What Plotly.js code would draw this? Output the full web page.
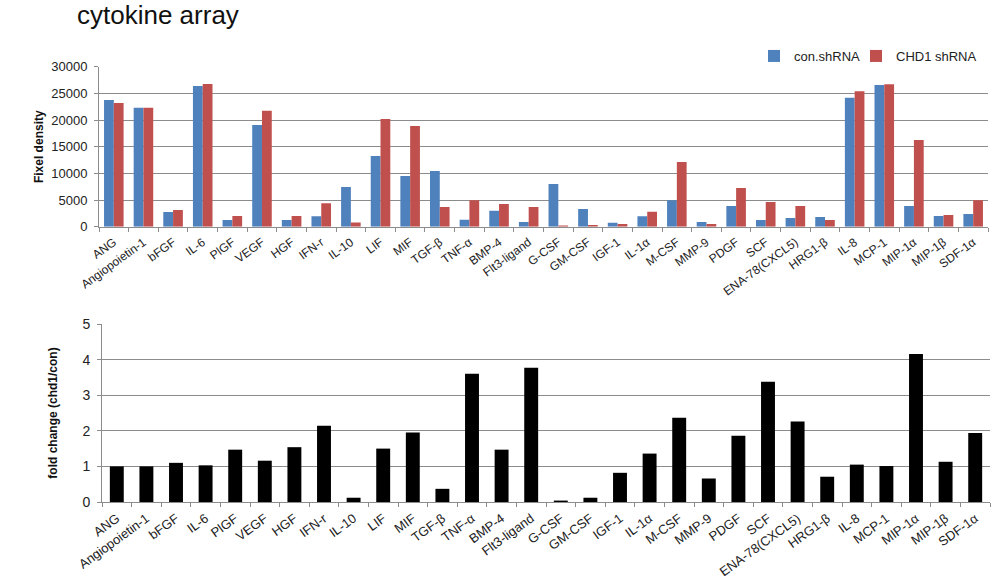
<!DOCTYPE html>
<html>
<head>
<meta charset="utf-8">
<script src="https://cdn.plot.ly/plotly-3.0.1.min.js"></script>
<style>html,body{margin:0;padding:0;background:#fff;}#chart{width:1002px;height:584px;}</style>
</head>
<body>
<div id="chart"></div>
<script>
const categories = ["ANG","Angiopoietin-1","bFGF","IL-6","PlGF","VEGF","HGF","IFN-r","IL-10","LIF","MIF","TGF-β","TNF-α","BMP-4","Flt3-ligand","G-CSF","GM-CSF","IGF-1","IL-1α","M-CSF","MMP-9","PDGF","SCF","ENA-78(CXCL5)","HRG1-β","IL-8","MCP-1","MIP-1α","MIP-1β","SDF-1α"];
const conShRNA = [23750,22300,2750,26380,1250,19060,1250,1940,7440,13250,9500,10440,1310,3000,875,8000,3310,750,1940,4940,875,3875,1250,1625,1810,24190,26560,3875,2000,2375];
const chd1ShRNA = [23190,22300,3125,26750,2000,21750,2000,4375,810,20190,18875,3690,4940,4250,3690,240,310,500,2810,12125,500,7250,4625,3875,1250,25375,26690,16250,2190,4940];
const foldChange = [1.00,1.00,1.10,1.03,1.47,1.16,1.54,2.14,0.12,1.50,1.95,0.37,3.60,1.47,3.77,0.04,0.12,0.82,1.36,2.37,0.66,1.86,3.38,2.26,0.71,1.05,1.01,4.16,1.13,1.94];

const font = "Liberation Sans, Arial, sans-serif";
const grid = "#8c8c8c";

const traces = [
  {type:"bar", x:categories, y:conShRNA, name:"con.shRNA", marker:{color:"#4F81BD"}, xaxis:"x", yaxis:"y", legend:"legend"},
  {type:"bar", x:categories, y:chd1ShRNA, name:"CHD1 shRNA", marker:{color:"#C0504D"}, xaxis:"x", yaxis:"y", legend:"legend2"},
  {type:"bar", x:categories, y:foldChange, name:"fold change", marker:{color:"#000000"}, xaxis:"x2", yaxis:"y2", showlegend:false, width:0.47}
];

const xCommon = {type:"category", tickangle:-36, showline:true, linecolor:grid, linewidth:1,
  ticks:"outside", tickson:"boundaries", ticklen:4, tickcolor:grid, showgrid:false, ticklabelstandoff:3,
  automargin:false};

const legendCommon = {orientation:"h", xanchor:"left", y:1-56/584, yanchor:"middle",
  font:{family:font, size:13, color:"#222"}, itemwidth:30, bgcolor:"rgba(0,0,0,0)"};

const layout = {
  width:1002, height:584,
  margin:{l:0,r:0,t:0,b:0},
  paper_bgcolor:"#fff", plot_bgcolor:"#fff",
  barmode:"group", bargap:0.34, bargroupgap:0,
  font:{family:font, color:"#222"},
  title:{text:"cytokine array", x:77/1002, xanchor:"left", xref:"paper", y:1-15/584, yanchor:"middle", yref:"paper",
    font:{family:font, size:26, color:"#111"}},
  showlegend:true,
  legend:Object.assign({}, legendCommon, {x:754/1002}),
  legend2:Object.assign({}, legendCommon, {x:856/1002}),
  xaxis:Object.assign({}, xCommon, {domain:[99/1002, 988/1002], anchor:"y", tickfont:{family:font, size:12, color:"#222"}}),
  yaxis:{domain:[1-226.7/584, 1-66.7/584], range:[0,30000], dtick:5000, tickformat:"d", showgrid:true, gridcolor:grid, gridwidth:1,
    showline:true, linecolor:grid, ticks:"outside", ticklen:4, tickcolor:grid, zeroline:false, ticklabelstandoff:4,
    tickfont:{family:font, size:13, color:"#222"}, anchor:"x", automargin:false,
    title:{text:"<b>Fixel density</b>", standoff:5, font:{family:font, size:12, color:"#111"}}},
  xaxis2:Object.assign({}, xCommon, {domain:[102/1002, 990/1002], anchor:"y2", tickfont:{family:font, size:13, color:"#222"}}),
  yaxis2:{domain:[1-502/584, 1-324/584], range:[0,5], dtick:1, showgrid:true, gridcolor:grid, gridwidth:1,
    showline:true, linecolor:grid, ticks:"outside", ticklen:4, tickcolor:grid, zeroline:false, ticklabelstandoff:4,
    tickfont:{family:font, size:14, color:"#222"}, anchor:"x2", automargin:false,
    title:{text:"<b>fold change (chd1/con)</b>", standoff:22, font:{family:font, size:12, color:"#111"}}}
};

Plotly.newPlot("chart", traces, layout, {displayModeBar:false, staticPlot:true});
</script>
</body>
</html>
